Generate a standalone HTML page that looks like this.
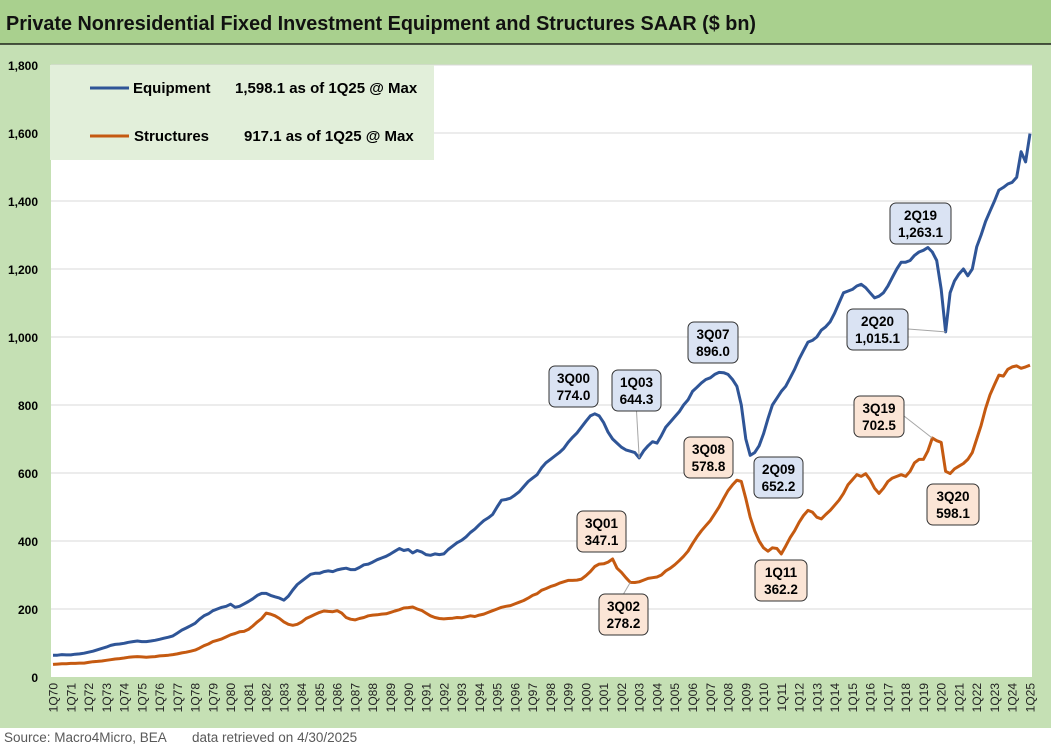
<!DOCTYPE html>
<html><head><meta charset="utf-8"><style>
body{margin:0;width:1051px;height:747px;overflow:hidden;background:#fff;font-family:"Liberation Sans",Arial,sans-serif}
</style></head><body>
<svg id="chart" width="1051" height="747" xmlns="http://www.w3.org/2000/svg" font-family="Liberation Sans, Arial, sans-serif">
<rect x="0" y="0" width="1051" height="728" fill="#c5e0b4"/>
<rect x="0" y="0" width="1051" height="44" fill="#a9d08e"/>
<line x1="0" y1="44" x2="1051" y2="44" stroke="#000" stroke-width="1.2"/>
<text x="6" y="30" font-size="20" font-weight="bold" fill="#111" textLength="750" lengthAdjust="spacingAndGlyphs">Private Nonresidential Fixed Investment Equipment and Structures SAAR ($ bn)</text>
<rect x="51" y="65" width="981" height="612" fill="#fff"/>
<g id="grid"></g><g id="yticks"></g><g id="xticks"></g><g id="series"></g><g id="notes"></g>
<rect x="50" y="65" width="384" height="95" fill="#e2efda"/>
<line x1="90" y1="88" x2="129" y2="88" stroke="#2f5597" stroke-width="3"/>
<text x="133" y="93" font-size="15" font-weight="bold">Equipment</text>
<text x="235" y="93" font-size="15" font-weight="bold">1,598.1 as of 1Q25 @ Max</text>
<line x1="90" y1="136" x2="129" y2="136" stroke="#c55a11" stroke-width="3"/>
<text x="134" y="141" font-size="15" font-weight="bold">Structures</text>
<text x="244" y="141" font-size="15" font-weight="bold">917.1 as of 1Q25 @ Max</text>
<text x="4" y="742" font-size="13.5" fill="#595959">Source: Macro4Micro, BEA</text>
<text x="192" y="742" font-size="13.5" fill="#595959">data retrieved on 4/30/2025</text>
</svg>
<script>
const startYear = 1970;
const equipment = [
64,64,66,65, 65,67,68,70, 73,76,80,84, 88,93,96,97, 99,102,104,106, 104,104,106,108, 111,114,117,121, 129,138,144,151,
158,170,180,186, 195,200,205,208, 214,205,208,215, 222,230,240,246, 246,240,236,232, 226,238,256,272, 282,292,302,305,
305,310,312,310, 315,318,320,316, 316,322,330,332, 338,345,350,355, 362,370,378,372, 375,365,372,368, 360,358,362,360,
362,375,385,395, 402,412,425,435, 448,460,468,478, 500,520,522,526, 535,545,560,575, 585,595,615,630, 640,650,660,672,
690,705,718,735, 752,768,774,768, 748,720,700,688, 676,668,664,660, 644.3,665,680,692, 688,710,735,750, 765,780,800,815,
840,852,865,875, 880,890,896,895, 890,875,855,800, 700,652.2,660,680, 715,760,800,820, 840,855,880,905, 935,960,985,990,
1000,1020,1030,1045, 1070,1100,1130,1135, 1140,1150,1155,1145, 1130,1115,1120,1130, 1150,1175,1200,1220, 1220,1225,1240,1250,
1255,1263.1,1250,1225, 1140,1015.1,1130,1165, 1185,1200,1180,1200, 1265,1300,1340,1370, 1400,1432,1440,1450, 1455,1470,1545,1515,
1598.1];
const structures = [
37,38,39,39, 40,40,41,41, 43,45,46,47, 49,51,53,54, 56,58,59,60, 59,58,59,60, 62,63,64,66, 68,71,73,76,
79,85,92,97, 104,108,112,118, 124,128,133,134, 140,150,162,172, 188,185,180,172, 162,155,152,155, 162,172,178,184,
190,194,193,192, 195,188,175,170, 168,172,175,180, 182,183,185,186, 190,194,198,203, 204,206,200,196, 188,180,175,172,
171,172,173,175, 174,177,180,178, 182,185,190,195, 200,205,208,210, 215,220,225,232, 240,245,255,260, 266,270,276,280,
284,284,285,288, 298,310,325,332, 333,338,347.1,320, 308,292,278.2,278, 280,285,290,292, 294,300,312,320, 330,342,355,370,
392,412,430,445, 460,480,500,525, 548,565,578.8,575, 525,470,430,400, 380,370,380,378, 362.2,385,410,430, 455,475,490,485,
470,465,478,490, 505,520,540,565, 580,595,590,598, 580,555,540,555, 575,585,590,595, 590,605,630,640,
640,665,702.5,695, 690,605,598.1,612, 620,628,640,660, 700,740,790,830, 860,888,885,905, 912,915,908,912,
917.1];
const yTicks = [0,200,400,600,800,1000,1200,1400,1600,1800];
const yLabels = ["0","200","400","600","800","1,000","1,200","1,400","1,600","1,800"];
const notes = [
 {s:"e",q:"3Q00",v:"774.0",i:122,bx:549,by:366,w:49},
 {s:"e",q:"1Q03",v:"644.3",i:132,bx:612,by:370,w:49,lead:true},
 {s:"e",q:"3Q07",v:"896.0",i:150,bx:688,by:322,w:50},
 {s:"e",q:"2Q09",v:"652.2",i:157,bx:754,by:457,w:49},
 {s:"e",q:"2Q19",v:"1,263.1",i:197,bx:890,by:203,w:61},
 {s:"e",q:"2Q20",v:"1,015.1",i:201,bx:847,by:309,w:61,lead:true},
 {s:"s",q:"3Q01",v:"347.1",i:126,bx:577,by:511,w:49},
 {s:"s",q:"3Q02",v:"278.2",i:130,bx:599,by:594,w:49,lead:true},
 {s:"s",q:"3Q08",v:"578.8",i:154,bx:684,by:437,w:49},
 {s:"s",q:"1Q11",v:"362.2",i:164,bx:755,by:560,w:52},
 {s:"s",q:"3Q19",v:"702.5",i:198,bx:854,by:396,w:50,lead:true},
 {s:"s",q:"3Q20",v:"598.1",i:202,bx:927,by:484,w:52}
];
const NS="http://www.w3.org/2000/svg";
const X=i=>53+i*(977/220);
const Y=v=>677-v*(612/1800);
function mk(tag,attrs,parent,txt){const e=document.createElementNS(NS,tag);for(const k in attrs)e.setAttribute(k,attrs[k]);if(txt!==undefined)e.textContent=txt;document.getElementById(parent).appendChild(e);return e;}
yTicks.forEach((t,k)=>{
 if(t>0){const g=mk('line',{x1:51,x2:1032,y1:Y(t),y2:Y(t),stroke:'#d9d9d9','stroke-width':1},'grid');
 
 }
 const l=mk('text',{x:38,y:Y(t)+5,'text-anchor':'end','font-size':12,'font-weight':'bold'},'yticks',yLabels[k]);
 
 
});
for(let yr=0;yr<=55;yr++){
 const x=X(yr*4);
 const lab='1Q'+String((startYear+yr)%100).padStart(2,'0');
 const t=mk('text',{x:0,y:0,transform:`translate(${x+4.5},${683}) rotate(-90)`,'text-anchor':'end','font-size':12,fill:'#222'},'xticks',lab);
 
 
}
function line(arr,col,name){
 const d=arr.map((v,i)=>(i?'L':'M')+X(i).toFixed(1)+','+Y(v).toFixed(1)).join('');
 const p=mk('path',{d:d,fill:'none',stroke:col,'stroke-width':3,'stroke-linejoin':'round'},'series');
 
 
}
line(equipment,'#2f5597','equipment-line');
line(structures,'#c55a11','structures-line');
notes.forEach(n=>{
 const arr=n.s==='e'?equipment:structures;
 const px=X(n.i),py=Y(arr[n.i]);
 if(n.lead){
  const cx=n.bx+n.w/2, cy=n.by+20;
  let sx=cx,sy=(py>cy)?n.by+41:n.by;
  if(Math.abs(px-cx)>n.w/2+5){sx=px>cx?n.bx+n.w:n.bx;sy=cy;}
  mk('line',{x1:sx,y1:sy,x2:px,y2:py,stroke:'#a6a6a6','stroke-width':1},'notes');
 }
 const r=mk('rect',{x:n.bx,y:n.by,width:n.w,height:41,rx:6,fill:n.s==='e'?'#dae3f3':'#fbe5d6',stroke:'#333','stroke-width':1},'notes');
 
 
 mk('text',{x:n.bx+n.w/2,y:n.by+17,'text-anchor':'middle','font-size':13.5,'font-weight':'bold'},'notes',n.q);
 mk('text',{x:n.bx+n.w/2,y:n.by+34,'text-anchor':'middle','font-size':13.5,'font-weight':'bold'},'notes',n.v);
});
</script>
</body></html>
